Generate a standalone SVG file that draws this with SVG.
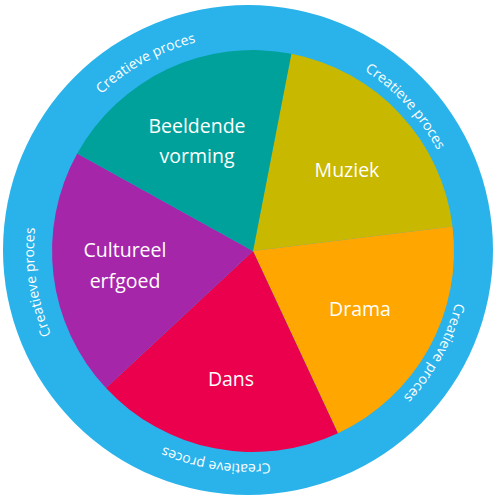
<svg xmlns="http://www.w3.org/2000/svg" width="493" height="497" viewBox="0 0 493 497">
  <style>
    .lbl { font-family: "Open Sans", "DejaVu Sans", sans-serif; font-size: 19.5px; fill: #ffffff; text-anchor: middle; }
    .ring { font-family: "Open Sans", "DejaVu Sans", sans-serif; font-size: 14px; fill: #ffffff; text-anchor: middle; }
  </style>
  <defs>
    <path id="ringPath" d="M 462,250 A 214,214 0 1 1 34,250 A 214,214 0 1 1 462,250"/>
  </defs>
  <g id="ring">
    <circle cx="248" cy="250" r="245" fill="#29B3EA"/>
    <text class="ring"><textPath href="#ringPath" startOffset="107.9">Creatieve proces</textPath></text>
    <text class="ring"><textPath href="#ringPath" startOffset="368.3">Creatieve proces</textPath></text>
    <text class="ring"><textPath href="#ringPath" startOffset="639.8">Creatieve proces</textPath></text>
    <text class="ring"><textPath href="#ringPath" startOffset="901.2">Creatieve proces</textPath></text>
    <text class="ring"><textPath href="#ringPath" startOffset="1186.2">Creatieve proces</textPath></text>
  </g>
  <g id="muziek">
    <path d="M253,251 L291.35,53.7 A201,201 0 0 1 452.5,226.5 Z" fill="#C8B800"/>
    <text class="lbl" x="347" y="177">Muziek</text>
  </g>
  <g id="drama">
    <path d="M253,251 L452.5,226.5 A201,201 0 0 1 337.9,433.2 Z" fill="#FFA600"/>
    <text class="lbl" x="360" y="316">Drama</text>
  </g>
  <g id="dans">
    <path d="M253,251 L337.9,433.2 A201,201 0 0 1 106,388.1 Z" fill="#EA004C"/>
    <text class="lbl" x="231" y="386">Dans</text>
  </g>
  <g id="cultureel-erfgoed">
    <path d="M253,251 L106,388.1 A201,201 0 0 1 77.2,153.6 Z" fill="#A626AA"/>
    <text class="lbl" x="125" y="257">Cultureel</text>
    <text class="lbl" x="125" y="288">erfgoed</text>
  </g>
  <g id="beeldende-vorming">
    <path d="M253,251 L77.2,153.6 A201,201 0 0 1 291.35,53.7 Z" fill="#00A19A"/>
    <text class="lbl" x="197" y="133">Beeldende</text>
    <text class="lbl" x="197" y="163">vorming</text>
  </g>
  <g id="connectors"/>
</svg>
